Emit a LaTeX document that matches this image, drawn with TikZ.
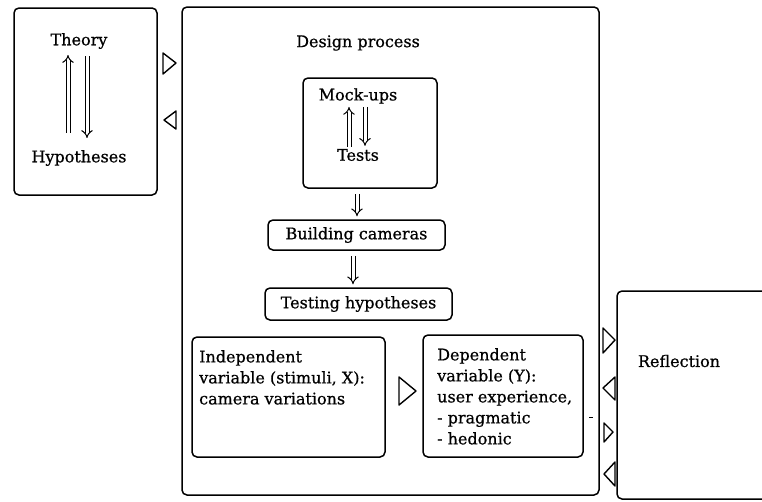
\documentclass[tikz,border=0pt]{standalone}
\usepackage{fontspec}
\setmainfont{DejaVu Serif}[FakeBold=0.7]
\usetikzlibrary{arrows.meta}
\begin{document}
\begin{tikzpicture}[x=1pt,y=-1pt,
  every node/.style={font=\fontsize{16}{21}\selectfont, inner sep=0pt},
  box/.style={draw, line width=1.5pt, rounded corners=5pt},
  dbl/.style={draw=black, double=white, double distance=3pt, line width=1pt, -{Implies}},
  tri/.style={draw, line width=1.4pt, line join=round}
]
\useasboundingbox (0,0) rectangle (762,501);
\clip (0,0) rectangle (762,501);

% Theory / hypotheses panel
\draw[box] (14,8) rectangle (157,195);
\node (theory) at (79,41) {Theory};
\node (hyp) at (79,158) {Hypotheses};
\draw[dbl, shorten >=6pt] ([xshift=-11pt,yshift=17pt]hyp.north) -- ([xshift=-11pt]theory.south);
\draw[dbl, shorten <=7pt] ([xshift=8pt]theory.south) -- ([xshift=8pt,yshift=12pt]hyp.north);

% flow markers between theory and design process
\draw[tri] (163,53) -- (176,63) -- (163,74) -- cycle;
\draw[tri] (176,111) -- (164,120) -- (176,129) -- cycle;

% Design process panel
\draw[box] (182,7) rectangle (599,495);
\node (design) at (358,43) {Design process};

\node[box, minimum width=134pt, minimum height=110pt] (mock) at (370,133) {};
\node (mockups) at (358,96) {Mock-ups};
\node (tests) at (358,155) {Tests};
\draw[dbl, shorten <=2pt, shorten >=3pt] ([xshift=-9pt]tests.north) -- ([xshift=-9pt]mockups.south);
\draw[dbl, shorten <=3pt, shorten >=3pt] ([xshift=7pt]mockups.south) -- ([xshift=7pt]tests.north);

\node[box, minimum width=177pt, minimum height=30pt] (build) at (356.5,235) {Building cameras};
\node[box, minimum width=187pt, minimum height=32pt] (testing) at (358.5,304) {Testing hypotheses};
\draw[dbl, shorten <=5pt, shorten >=3pt] ([xshift=-13pt]mock.south) -- ([xshift=0.5pt]build.north);
\draw[dbl, shorten <=5pt, shorten >=3pt] ([xshift=-3.5pt]build.south) -- ([xshift=-5.5pt]testing.north);

\node[box, minimum width=193pt, minimum height=120pt] (indep) at (288.5,397) {};
\node[anchor=north west, align=left] (indeptext) at (199,350)
  {Independent\\variable (stimuli, X):\\camera variations};
\node[box, minimum width=160pt, minimum height=122pt] (dep) at (503,396) {};
\node[anchor=north west, align=left] (deptext) at (437,348)
  {Dependent\\variable (Y):\\user experience,\\- pragmatic\\- hedonic};
\draw[tri] (399,377) -- (416,391) -- (399,405) -- cycle;
\draw[line width=1pt] (589,417) -- (593,417);

% Reflection panel (runs on past the right edge)
\draw[box] (780,291) -- (617,291) -- (617,499) -- (780,499);
\node (refl) at (679,361) {Reflection};

% flow markers between design process and reflection
\draw[tri] (603,328) -- (615,340) -- (603,353) -- cycle;
\draw[tri] (615,377) -- (603,388) -- (615,400) -- cycle;
\draw[tri] (604,423) -- (613,432) -- (604,442) -- cycle;
\draw[tri] (615,462) -- (604,474) -- (615,486) -- cycle;
\end{tikzpicture}
\end{document}
